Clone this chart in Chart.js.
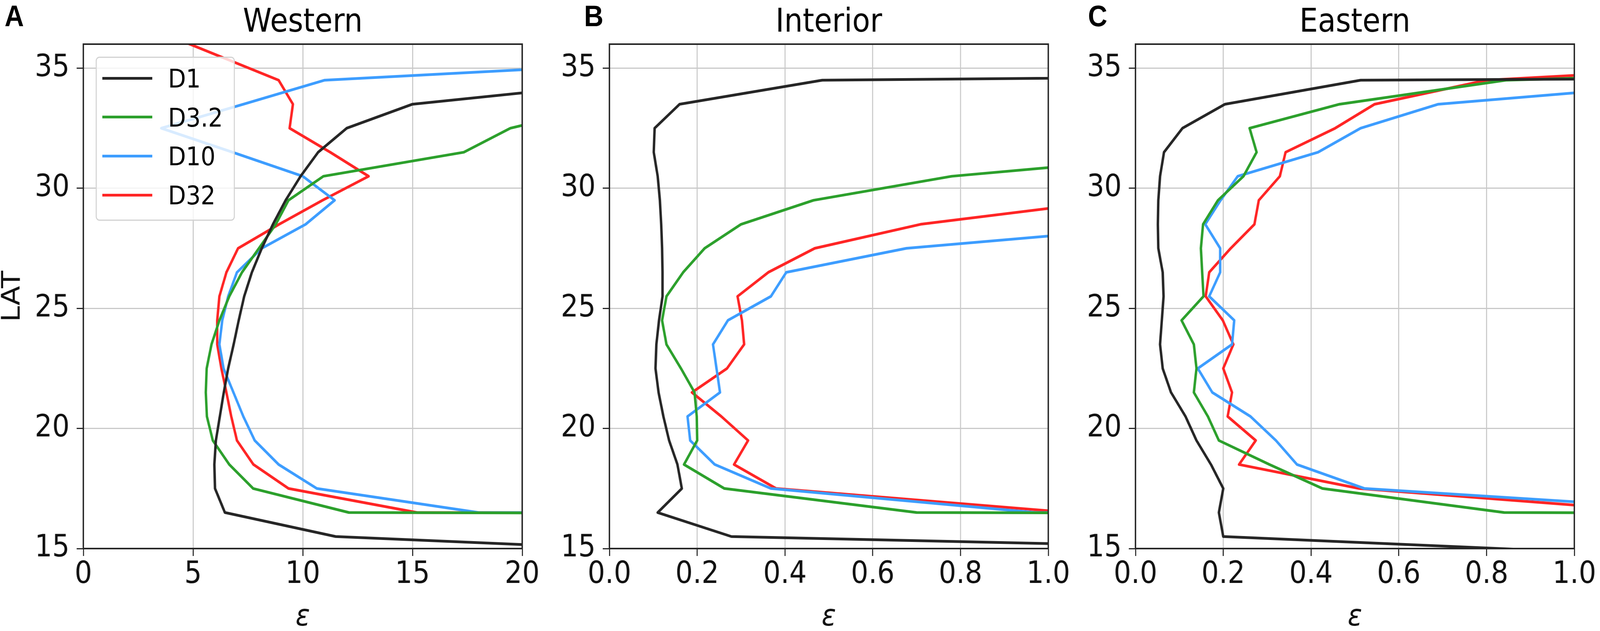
<!DOCTYPE html>
<html>
<head>
<meta charset="utf-8">
<script src="https://cdn.jsdelivr.net/npm/chart.js@4.4.1/dist/chart.umd.min.js"></script>
<style>
  html, body { margin: 0; padding: 0; background: #fff; overflow: hidden; }
  #wrap { position: relative; width: 4550px; height: 1615px; overflow: hidden; background: #fff; transform-origin: 0 0; }
  canvas { position: absolute; top: 0; }
  .letter { position: absolute; top: 3px; font-family: "Liberation Sans", Arial, sans-serif; font-weight: bold; font-size: 76px; line-height: 76px; color: #000; z-index: 5; }
  #legend { position: absolute; left: 272px; top: 145px; width: 396px; height: 420px; box-sizing: border-box;
            border: 3px solid #d2d2d2; border-radius: 11px; background: rgba(255,255,255,0.8); z-index: 10; }
  #legend .ln { position: absolute; left: 16px; width: 142px; height: 7px; }
  #legend .tx { position: absolute; left: 203px; font-family: "DejaVu Sans", sans-serif; font-size: 66px; line-height: 66px; color: #000; white-space: nowrap; }
</style>
</head>
<body>
<div id="wrap">
  <canvas id="cA" width="1560" height="1615" style="left:0px"></canvas>
  <canvas id="cB" width="1560" height="1615" style="left:1500px"></canvas>
  <canvas id="cC" width="1554" height="1615" style="left:2996px"></canvas>
  <div class="letter" style="left:13px">A</div>
  <div class="letter" style="left:1661px">B</div>
  <div class="letter" style="left:3094px">C</div>
  <div id="legend"></div>
</div>
<script>
// ---------------- data ----------------
const LAT = [14.5, 15.5, 16.5, 17.5, 18.5, 19.5, 20.5, 21.5, 22.5, 23.5, 24.5, 25.5,
             26.5, 27.5, 28.5, 29.5, 30.5, 31.5, 32.5, 33.5, 34.5, 35.5, 36.5];

const SERIES_LABELS = ['D1', 'D3.2', 'D10', 'D32'];
const PANEL_TITLES = ['Western', 'Interior', 'Eastern'];
const PANEL_LETTERS = ['A', 'B', 'C'];
const Y_TICKS = [15, 20, 25, 30, 35];
const X_TICKS_WESTERN = [0, 5, 10, 15, 20];
const X_TICKS_RATIO = [0.0, 0.2, 0.4, 0.6, 0.8, 1.0];

// Western
const W_D1   = [37, 11.5, 6.45, 6.0, 5.97, 6.04, 6.22, 6.4, 6.6, 6.85, 7.08, 7.33, 7.68, 8.13, 8.64, 9.22, 9.9, 10.7, 12.0, 15.0, 25.6, null, null];
const W_D3p2 = [null, 1000, 12.1, 7.74, 6.65, 5.9, 5.63, 5.58, 5.62, 5.84, 6.2, 6.65, 7.23, 8.0, 8.77, 9.35, 10.94, 17.34, 19.46, 24, null, null, null];
const W_D10  = [null, 1000, 18.0, 10.64, 8.9, 7.81, 7.29, 6.84, 6.39, 6.2, 6.33, 6.6, 7.0, 8.13, 10.13, 11.45, 10.0, 6.8, 3.55, 7.3, 11.0, 31.7, null];
const W_D32  = [null, 1000, 15.2, 9.35, 7.75, 7.0, 6.74, 6.52, 6.29, 6.1, 6.1, 6.2, 6.52, 7.05, 8.92, 10.9, 13.0, 11.25, 9.4, 9.55, 8.9, 6.2, 3.5];

// Interior
const I_D1   = [2.76, 0.278, 0.11, 0.165, 0.155, 0.136, 0.123, 0.112, 0.105, 0.107, 0.113, 0.121, 0.121, 0.12, 0.118, 0.115, 0.11, 0.101, 0.103, 0.16, 0.485, 6.9, null];
const I_D3p2 = [null, 30, 0.70, 0.262, 0.17, 0.2, 0.199, 0.194, 0.163, 0.13, 0.12, 0.13, 0.168, 0.217, 0.3, 0.465, 0.78, 1.39, null, null, null, null, null];
const I_D10  = [null, 30, 0.97, 0.368, 0.24, 0.184, 0.178, 0.252, 0.244, 0.236, 0.27, 0.368, 0.403, 0.677, 1.31, null, null, null, null, null, null, null, null];
const I_D32  = [null, 30, 1.05, 0.38, 0.284, 0.316, 0.255, 0.188, 0.268, 0.307, 0.302, 0.292, 0.362, 0.468, 0.709, 1.15, null, null, null, null, null, null, null];

// Eastern
const E_D1   = [1.46, 0.2, 0.19, 0.2, 0.172, 0.139, 0.114, 0.081, 0.062, 0.056, 0.06, 0.064, 0.062, 0.052, 0.051, 0.052, 0.056, 0.065, 0.107, 0.204, 0.513, 12, null];
const E_D3p2 = [null, 30, 0.84, 0.426, 0.305, 0.19, 0.165, 0.133, 0.139, 0.133, 0.105, 0.155, 0.152, 0.149, 0.154, 0.188, 0.246, 0.276, 0.26, 0.465, 0.844, 2.8, null];
const E_D10  = [null, null, 1.39, 0.522, 0.368, 0.32, 0.262, 0.175, 0.142, 0.22, 0.225, 0.168, 0.193, 0.193, 0.159, 0.194, 0.233, 0.416, 0.513, 0.69, 1.35, null, null];
const E_D32  = [null, null, 1.22, 0.51, 0.236, 0.274, 0.21, 0.22, 0.2, 0.223, 0.199, 0.16, 0.168, 0.217, 0.271, 0.281, 0.329, 0.342, 0.455, 0.545, 0.8, 1.8, null];

// ---------------- styles ----------------
const COLORS = ['#262626', '#2ca02c', '#3d9dff', '#ff2525'];
const TEXT = '#111111';
const GRID = '#c9c9c9';
const FONT = '"DejaVu Sans", sans-serif';

// fit the 4550x1615 design into the real viewport (it may be clamped narrower)
(function fitToViewport() {
  const sx = Math.min(1, window.innerWidth / 4550);
  const sy = Math.min(1, window.innerHeight / 1615);
  document.getElementById('wrap').style.transform = 'scale(' + sx + ',' + sy + ')';
})();

Chart.defaults.font.family = FONT;
Chart.defaults.color = TEXT;

function pts(vals) {
  const out = [];
  LAT.forEach((lat, i) => { if (vals[i] !== null) out.push({ x: vals[i], y: lat }); });
  return out;
}

const framePlugin = {
  id: 'frame',
  afterDatasetsDraw(chart) {
    const { ctx, chartArea: a } = chart;
    ctx.save();
    ctx.strokeStyle = '#262626';
    ctx.lineWidth = 4;
    ctx.strokeRect(a.left, a.top, a.right - a.left, a.bottom - a.top);
    ctx.restore();
  }
};

function makeChart(id, title, seriesVals, xMax, xTicks, xFmt, yWidth, rightPad, showYTitle) {
  const datasets = seriesVals.map((vals, k) => ({
    label: SERIES_LABELS[k],
    data: pts(vals),
    borderColor: COLORS[k],
    backgroundColor: COLORS[k],
    borderWidth: 7,
    pointRadius: 0,
    pointHoverRadius: 0,
    tension: 0,
    fill: false,
    clip: 0,
    borderJoinStyle: 'round'
  }));
  return new Chart(document.getElementById(id), {
    type: 'line',
    data: { datasets },
    plugins: [framePlugin],
    options: {
      responsive: false,
      devicePixelRatio: 1,
      animation: false,
      events: [],
      layout: { padding: { left: 0, right: rightPad, top: 0, bottom: 0 } },
      plugins: {
        legend: { display: false },
        tooltip: { enabled: false },
        title: {
          display: true,
          text: title,
          fullSize: false,
          color: '#000',
          font: { family: FONT, size: 83, weight: 'normal', lineHeight: 1.2 },
          padding: { top: 9.5, bottom: 3.9 }
        }
      },
      scales: {
        x: {
          type: 'linear',
          min: 0,
          max: xMax,
          afterBuildTicks: (s) => { s.ticks = xTicks.map(v => ({ value: v })); },
          afterFit: (s) => { s.height = 211; },
          ticks: {
            callback: xFmt,
            font: { size: 78, lineHeight: 1.2 },
            color: TEXT,
            padding: 2,
            maxRotation: 0,
            autoSkip: false
          },
          grid: { color: GRID, lineWidth: 3, tickLength: 19, tickColor: '#262626', tickWidth: 3, drawTicks: true },
          border: { display: false },
          title: {
            display: true,
            text: 'ε',
            color: TEXT,
            font: { size: 76, style: 'italic', lineHeight: 0.88 },
            padding: 0
          }
        },
        y: {
          type: 'linear',
          min: 15,
          max: 36,
          afterBuildTicks: (s) => { s.ticks = Y_TICKS.map(v => ({ value: v })); },
          afterFit: (s) => { s.width = yWidth; },
          ticks: {
            font: { size: 78, lineHeight: 1.2 },
            color: TEXT,
            padding: 20,
            autoSkip: false
          },
          grid: { color: GRID, lineWidth: 3, tickLength: 19, tickColor: '#262626', tickWidth: 3, drawTicks: true },
          border: { display: false },
          title: {
            display: showYTitle,
            text: 'LAT',
            color: TEXT,
            font: { size: 73, lineHeight: 1 },
            padding: { top: 1, bottom: 0 }
          }
        }
      }
    }
  });
}

makeChart('cA', PANEL_TITLES[0], [W_D1, W_D3p2, W_D10, W_D32], 20, X_TICKS_WESTERN, (v) => String(v), 237, 75, true);
makeChart('cB', PANEL_TITLES[1], [I_D1, I_D3p2, I_D10, I_D32], 1, X_TICKS_RATIO, (v) => Number(v).toFixed(1), 233, 79, false);
makeChart('cC', PANEL_TITLES[2], [E_D1, E_D3p2, E_D10, E_D32], 1, X_TICKS_RATIO, (v) => Number(v).toFixed(1), 233, 73, false);

// HTML legend (panel A), built from the series labels and colours
const legend = document.getElementById('legend');
SERIES_LABELS.forEach((lab, i) => {
  const cy = 52 + 99.67 * i;
  const ln = document.createElement('div');
  ln.className = 'ln';
  ln.style.top = (cy - 3.5) + 'px';
  ln.style.background = COLORS[i];
  legend.appendChild(ln);
  const tx = document.createElement('div');
  tx.className = 'tx';
  tx.style.top = (cy - 31) + 'px';
  tx.textContent = lab;
  legend.appendChild(tx);
});
</script>
</body>
</html>
